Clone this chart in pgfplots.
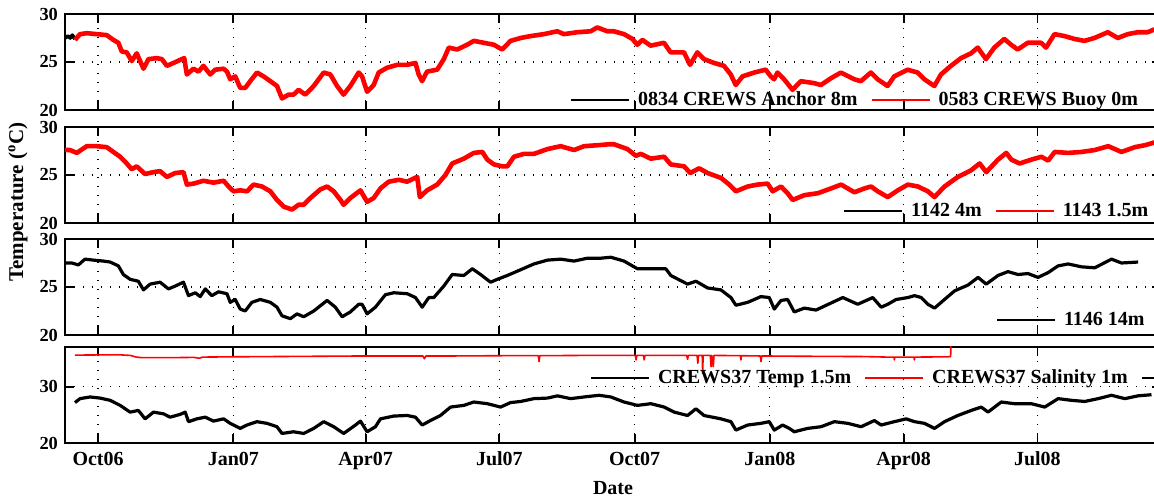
\documentclass[border=0pt]{standalone}
\usepackage{fontspec}
\setmainfont{Liberation Serif}
\usepackage{pgfplots}
\pgfplotsset{compat=1.18}

\pgfplotsset{
  panel/.style={
    scale only axis, width=548pt, height=48pt,
    xmin=-22.5, xmax=723.1,
    xtick={0,92,182,273,365,457,548,639},
    xticklabels={},
    grid=major,
    grid style={black, line width=0.6pt, dash pattern=on 0.6pt off 3.9pt},
    axis line style={line width=0.9pt},
    tick style={line width=0.9pt, black},
    major tick length=4.5pt,
    tick align=inside,
    ymin=20,
    /pgf/number format/assume math mode=true,
    xticklabel style={font=\fontsize{10}{12}\selectfont\bfseries, yshift=-1pt},
    yticklabel style={font=\fontsize{9.2}{11}\selectfont\bfseries},
    legend style={draw=none, fill=none, inner sep=0pt, outer sep=0pt,
      font=\fontsize{10}{12}\selectfont\bfseries, legend columns=-1,
      /tikz/every odd column/.append style={column sep=4pt},
      /tikz/every even column/.append style={column sep=6.5pt},
      nodes={inner sep=0pt}},
    legend image code/.code={\draw[#1, line width=1pt] (0pt,0pt) -- (29pt,0pt);},
    legend cell align=left,
  },
}

\begin{document}
\begin{tikzpicture}
\useasboundingbox (-32.5pt,-26.5pt) rectangle (544.5pt,221.5pt);

% ---------------- Panel 1 ----------------
\begin{axis}[panel, at={(0pt,166.5pt)}, ymax=30, ytick={20,25,30},
  legend style={at={(0.4608,0.105)}, anchor=west}]
\addplot[black, line width=1.8pt, line join=round] table {
-22.5 27.5
-20.5 27.7
-19.0 27.5
-17.5 27.8
-15.7 27.4
};
\addlegendentry{0834 CREWS Anchor 8m}
\addplot[red, line width=2.3pt, line join=round] table {
-15.7 27.3
-12.3 27.9
-7.7 28.0
-0.9 27.9
5.9 27.8
10.4 27.3
13.8 27.0
16.1 26.1
19.5 26.0
22.9 25.1
26.3 25.9
30.9 24.3
34.3 25.3
40.0 25.4
43.4 25.3
46.8 24.6
51.3 24.9
57.0 25.3
58.6 25.4
60.4 23.7
64.9 24.3
68.3 24.0
71.7 24.6
76.3 23.7
79.7 24.2
85.4 24.3
87.7 24.0
89.9 23.2
93.3 23.5
96.7 22.3
100.1 22.3
103.5 23.0
108.1 23.9
112.6 23.5
117.2 23.0
121.7 22.5
125.1 21.2
129.6 21.6
133.0 21.6
136.4 22.1
141.0 21.6
146.7 22.5
153.5 23.9
158.0 23.7
162.6 22.5
167.0 21.6
171.6 22.5
177.3 23.9
179.6 23.5
183.0 21.9
187.5 22.6
190.9 23.9
196.6 24.4
203.4 24.7
210.2 24.7
215.9 24.9
218.1 23.7
220.4 23.0
223.8 24.0
230.7 24.2
235.2 25.3
238.6 26.5
244.3 26.3
251.1 26.8
255.6 27.2
262.4 27.0
269.2 26.8
274.9 26.3
280.6 27.2
287.4 27.5
294.2 27.7
303.3 27.9
312.4 28.2
316.9 27.9
326.0 28.1
335.1 28.2
339.6 28.6
346.4 28.2
350.9 28.2
357.8 27.9
363.5 27.4
366.8 26.8
370.3 27.3
375.9 26.7
385.0 27.0
389.5 26.0
398.6 26.0
402.7 24.7
407.7 26.0
412.2 25.3
419.0 24.9
425.8 24.6
430.4 23.7
433.8 22.6
438.4 23.5
446.3 23.9
454.2 24.2
457.6 23.5
459.9 23.2
462.2 23.9
466.7 23.2
472.4 22.1
478.1 23.0
487.1 22.8
491.7 22.6
498.5 23.3
505.3 23.9
514.4 23.2
518.9 23.0
525.7 23.9
530.3 23.2
537.1 22.5
541.6 23.5
550.7 24.2
557.5 23.9
562.1 23.2
568.9 22.5
573.4 23.7
580.2 24.6
587.0 25.4
593.8 25.9
598.4 26.5
604.0 25.3
609.7 26.5
616.5 27.4
621.1 26.8
625.6 26.3
632.4 27.0
641.5 27.0
644.9 26.5
650.6 27.9
657.4 27.7
664.2 27.4
671.0 27.2
677.8 27.5
686.9 28.1
693.7 27.5
700.5 27.9
707.3 28.1
714.1 28.1
718.6 28.4
};
\addlegendentry{0583 CREWS Buoy 0m}
\end{axis}

% ---------------- Panel 2 ----------------
\begin{axis}[panel, at={(0pt,110pt)}, ymax=30, ytick={20,25,30},
  legend style={at={(0.710,0.125)}, anchor=west}]
\addlegendimage{black}
\addlegendentry{1142 4m}
\addplot[red, line width=2.3pt, line join=round] table {
-22.5 27.6
-19.1 27.6
-14.5 27.3
-7.7 28.0
-0.9 28.0
5.9 27.9
10.4 27.4
15.0 26.9
19.5 26.2
22.9 25.6
26.3 25.9
32.0 25.1
37.7 25.3
42.2 25.4
46.8 24.8
52.5 25.2
58.1 25.3
60.4 24.0
64.9 24.1
71.7 24.4
78.5 24.2
85.4 24.4
88.8 23.8
92.2 23.3
96.7 23.4
101.3 23.3
105.8 24.0
111.5 23.8
117.2 23.3
121.7 22.4
126.3 21.7
132.0 21.4
136.4 21.9
139.9 21.9
144.4 22.6
151.2 23.5
155.8 23.8
160.3 23.3
164.9 22.4
167.0 21.9
171.6 22.6
178.5 23.4
183.0 22.2
187.5 22.6
192.1 23.6
197.7 24.3
204.6 24.5
210.2 24.3
217.1 24.8
218.9 22.7
223.8 23.4
230.7 24.0
236.3 25.0
240.9 26.2
248.8 26.7
255.6 27.3
261.4 27.4
264.8 26.6
269.3 26.1
275.0 25.9
278.4 25.9
282.9 26.9
289.7 27.2
296.5 27.2
305.7 27.7
314.7 28.0
323.8 27.6
330.6 28.0
339.7 28.1
347.6 28.2
351.0 28.2
360.1 27.7
365.8 27.0
369.2 27.2
376.0 26.7
385.1 26.9
389.6 26.1
398.7 25.9
402.8 25.2
408.9 25.7
414.7 25.2
423.7 24.7
429.4 24.0
433.9 23.3
441.9 23.8
448.7 24.0
455.5 24.1
458.9 23.3
464.6 23.8
469.1 23.1
472.5 22.4
480.5 22.9
489.6 23.1
498.6 23.6
505.5 24.0
514.5 23.2
521.3 23.6
525.9 23.8
530.4 23.3
537.2 22.7
544.0 23.4
550.9 24.0
557.7 23.8
564.5 23.3
569.0 22.7
575.8 23.8
584.9 24.8
594.0 25.5
599.7 26.2
604.2 25.3
612.2 26.6
617.8 27.3
621.3 26.6
626.9 26.2
634.9 26.6
641.7 26.9
646.3 26.5
650.8 27.4
659.9 27.3
669.0 27.4
678.0 27.6
687.2 28.0
696.2 27.4
705.3 27.9
712.1 28.1
718.9 28.4
};
\addlegendentry{1143 1.5m}
\end{axis}

% ---------------- Panel 3 ----------------
\begin{axis}[panel, at={(0pt,54pt)}, ymax=30, ytick={20,25,30},
  legend style={at={(0.8495,0.155)}, anchor=west}]
\addplot[black, line width=1.6pt, line join=round] table {
-22.5 27.5
-17.9 27.5
-13.4 27.3
-8.9 27.9
-3.2 27.8
3.6 27.7
8.2 27.6
13.8 27.2
17.2 26.3
21.8 25.8
27.4 25.6
30.9 24.7
35.4 25.3
42.2 25.5
47.9 24.8
52.5 25.1
58.1 25.5
61.5 24.1
66.1 24.4
69.5 24.0
72.9 24.8
77.4 24.1
81.9 24.5
87.7 24.3
89.9 23.4
93.3 23.7
96.7 22.7
100.1 22.5
104.6 23.4
110.3 23.7
117.2 23.4
121.7 22.9
125.1 22.0
130.8 21.7
135.3 22.2
139.9 21.9
146.7 22.5
155.8 23.6
161.4 22.9
166.0 21.9
171.6 22.4
177.3 23.2
179.6 23.2
183.0 22.2
188.7 22.9
195.5 24.2
201.2 24.4
210.3 24.3
215.9 23.9
220.5 22.9
225.0 23.9
228.4 23.9
235.2 25.1
240.9 26.3
248.8 26.2
254.6 26.9
260.2 26.3
267.0 25.5
271.6 25.8
278.4 26.2
287.5 26.8
296.5 27.4
305.7 27.8
314.7 27.9
323.8 27.7
332.9 28.0
342.0 28.0
348.8 28.1
357.8 27.7
366.9 26.9
376.0 26.9
386.2 26.9
389.6 26.2
401.0 25.3
406.7 25.6
414.6 24.9
423.7 24.7
430.5 23.9
433.9 23.1
441.9 23.4
450.9 24.0
456.6 23.9
460.0 22.7
464.6 23.6
469.1 23.7
473.6 22.4
480.4 22.8
488.4 22.6
506.6 23.9
516.8 23.2
527.0 23.9
532.7 22.9
537.2 23.2
542.9 23.7
550.9 23.9
555.4 24.1
560.0 23.9
564.5 23.2
569.0 22.8
575.8 23.7
582.7 24.6
591.8 25.2
598.6 26.0
604.2 25.3
612.2 26.2
619.0 26.6
625.8 26.3
632.6 26.4
639.4 26.0
646.3 26.5
653.1 27.2
659.9 27.4
669.0 27.1
678.0 27.0
689.4 27.9
696.2 27.5
707.5 27.6
};
\addlegendentry{1146 14m}
\end{axis}

% ---------------- Panel 4 ----------------
\begin{axis}[panel, at={(0pt,0pt)}, ymax=37.1, ytick={20,30},
  xticklabels={Oct06,Jan07,Apr07,Jul07,Oct07,Jan08,Apr08,Jul08},
  xlabel={Date}, xlabel style={font=\fontsize{10}{12}\selectfont\bfseries, yshift=1pt},
  legend style={at={(0.479,0.677)}, anchor=west}]
\addplot[black, line width=1.6pt, line join=round] table {
-15.7 27.2
-12.3 27.9
-5.5 28.2
1.4 28.0
8.2 27.6
15.0 26.7
21.8 25.5
27.4 25.8
32.0 24.3
37.7 25.5
44.5 25.2
49.0 24.6
55.9 25.1
59.3 25.5
61.5 23.8
67.2 24.3
72.9 24.6
78.5 23.9
85.4 24.3
89.9 23.5
96.7 22.6
101.3 23.2
108.1 23.8
114.9 23.5
121.7 22.9
125.1 21.7
133.0 22.0
139.9 21.7
146.7 22.6
153.5 23.8
160.3 22.9
167.1 21.7
175.1 23.2
178.5 23.9
183.0 22.0
188.7 22.9
192.1 24.3
201.2 24.8
210.3 24.9
215.9 24.6
220.5 23.2
226.1 24.0
232.9 24.9
239.8 26.4
248.8 26.7
255.6 27.3
264.8 27.0
273.8 26.4
280.6 27.2
287.5 27.4
296.5 27.9
305.7 28.0
312.5 28.4
321.5 27.9
330.6 28.2
340.8 28.5
348.8 28.2
357.8 27.3
366.9 26.7
376.0 27.0
385.1 26.4
391.9 25.5
401.0 24.9
406.7 26.1
412.2 24.9
423.7 24.3
430.5 23.8
433.9 22.3
441.9 23.2
450.9 23.5
456.6 23.8
460.0 22.3
465.7 23.2
470.2 22.6
473.6 22.0
482.7 22.6
491.8 22.9
500.9 23.8
510.0 23.5
519.1 22.9
528.1 24.0
532.7 23.2
541.7 23.8
549.7 24.3
555.4 23.8
562.2 23.5
569.0 22.6
575.8 23.8
584.9 24.9
594.0 25.8
600.8 26.4
605.4 25.5
614.4 27.3
623.5 27.0
634.9 27.0
644.0 26.4
653.1 27.9
662.2 27.6
671.2 27.4
680.3 27.9
689.4 28.5
698.5 27.9
707.5 28.4
716.6 28.6
};
\addlegendentry{CREWS37 Temp 1.5m}
\addplot[red, line width=0.8pt, line join=round] table {
-15.7 35.65
5 35.7
15 35.7
22 35.6
26 35.3
30 35.2
50 35.2
65 35.25
69 35.1
71 35.3
90 35.35
120 35.4
150 35.45
180 35.5
221 35.5
222 35.0
223 35.5
240 35.5
275 35.55
299.5 35.55
300 34.5
300.5 35.55
330 35.6
365.5 35.6
366 34.8
366.5 35.6
371 35.6
371.5 34.8
372 35.6
400.5 35.6
401 34.9
401.5 35.6
407.5 35.6
408 34.2
408.5 35.6
411 35.6
411.3 32.4
411.6 35.6
416.5 35.6
417 33.6
417.5 35.6
418.5 33.6
419 35.6
437 35.55
437.3 34.8
437.6 35.55
450.5 35.5
451 34.5
451.5 35.5
480 35.45
520 35.4
537 35.3
541.5 35.3
541.7 34.8
542 35.3
555 35.3
555.3 34.8
555.6 35.3
578 35.35
580 35.4
580.2 40
};
\addlegendentry{CREWS37 Salinity 1m}
\addlegendimage{black}
\addlegendentry{}
\end{axis}

\node[rotate=90, font=\fontsize{10.5}{12}\selectfont\bfseries] at (-23.5pt,120.5pt) {Temperature (\textsuperscript{o}C)};
\end{tikzpicture}
\end{document}
